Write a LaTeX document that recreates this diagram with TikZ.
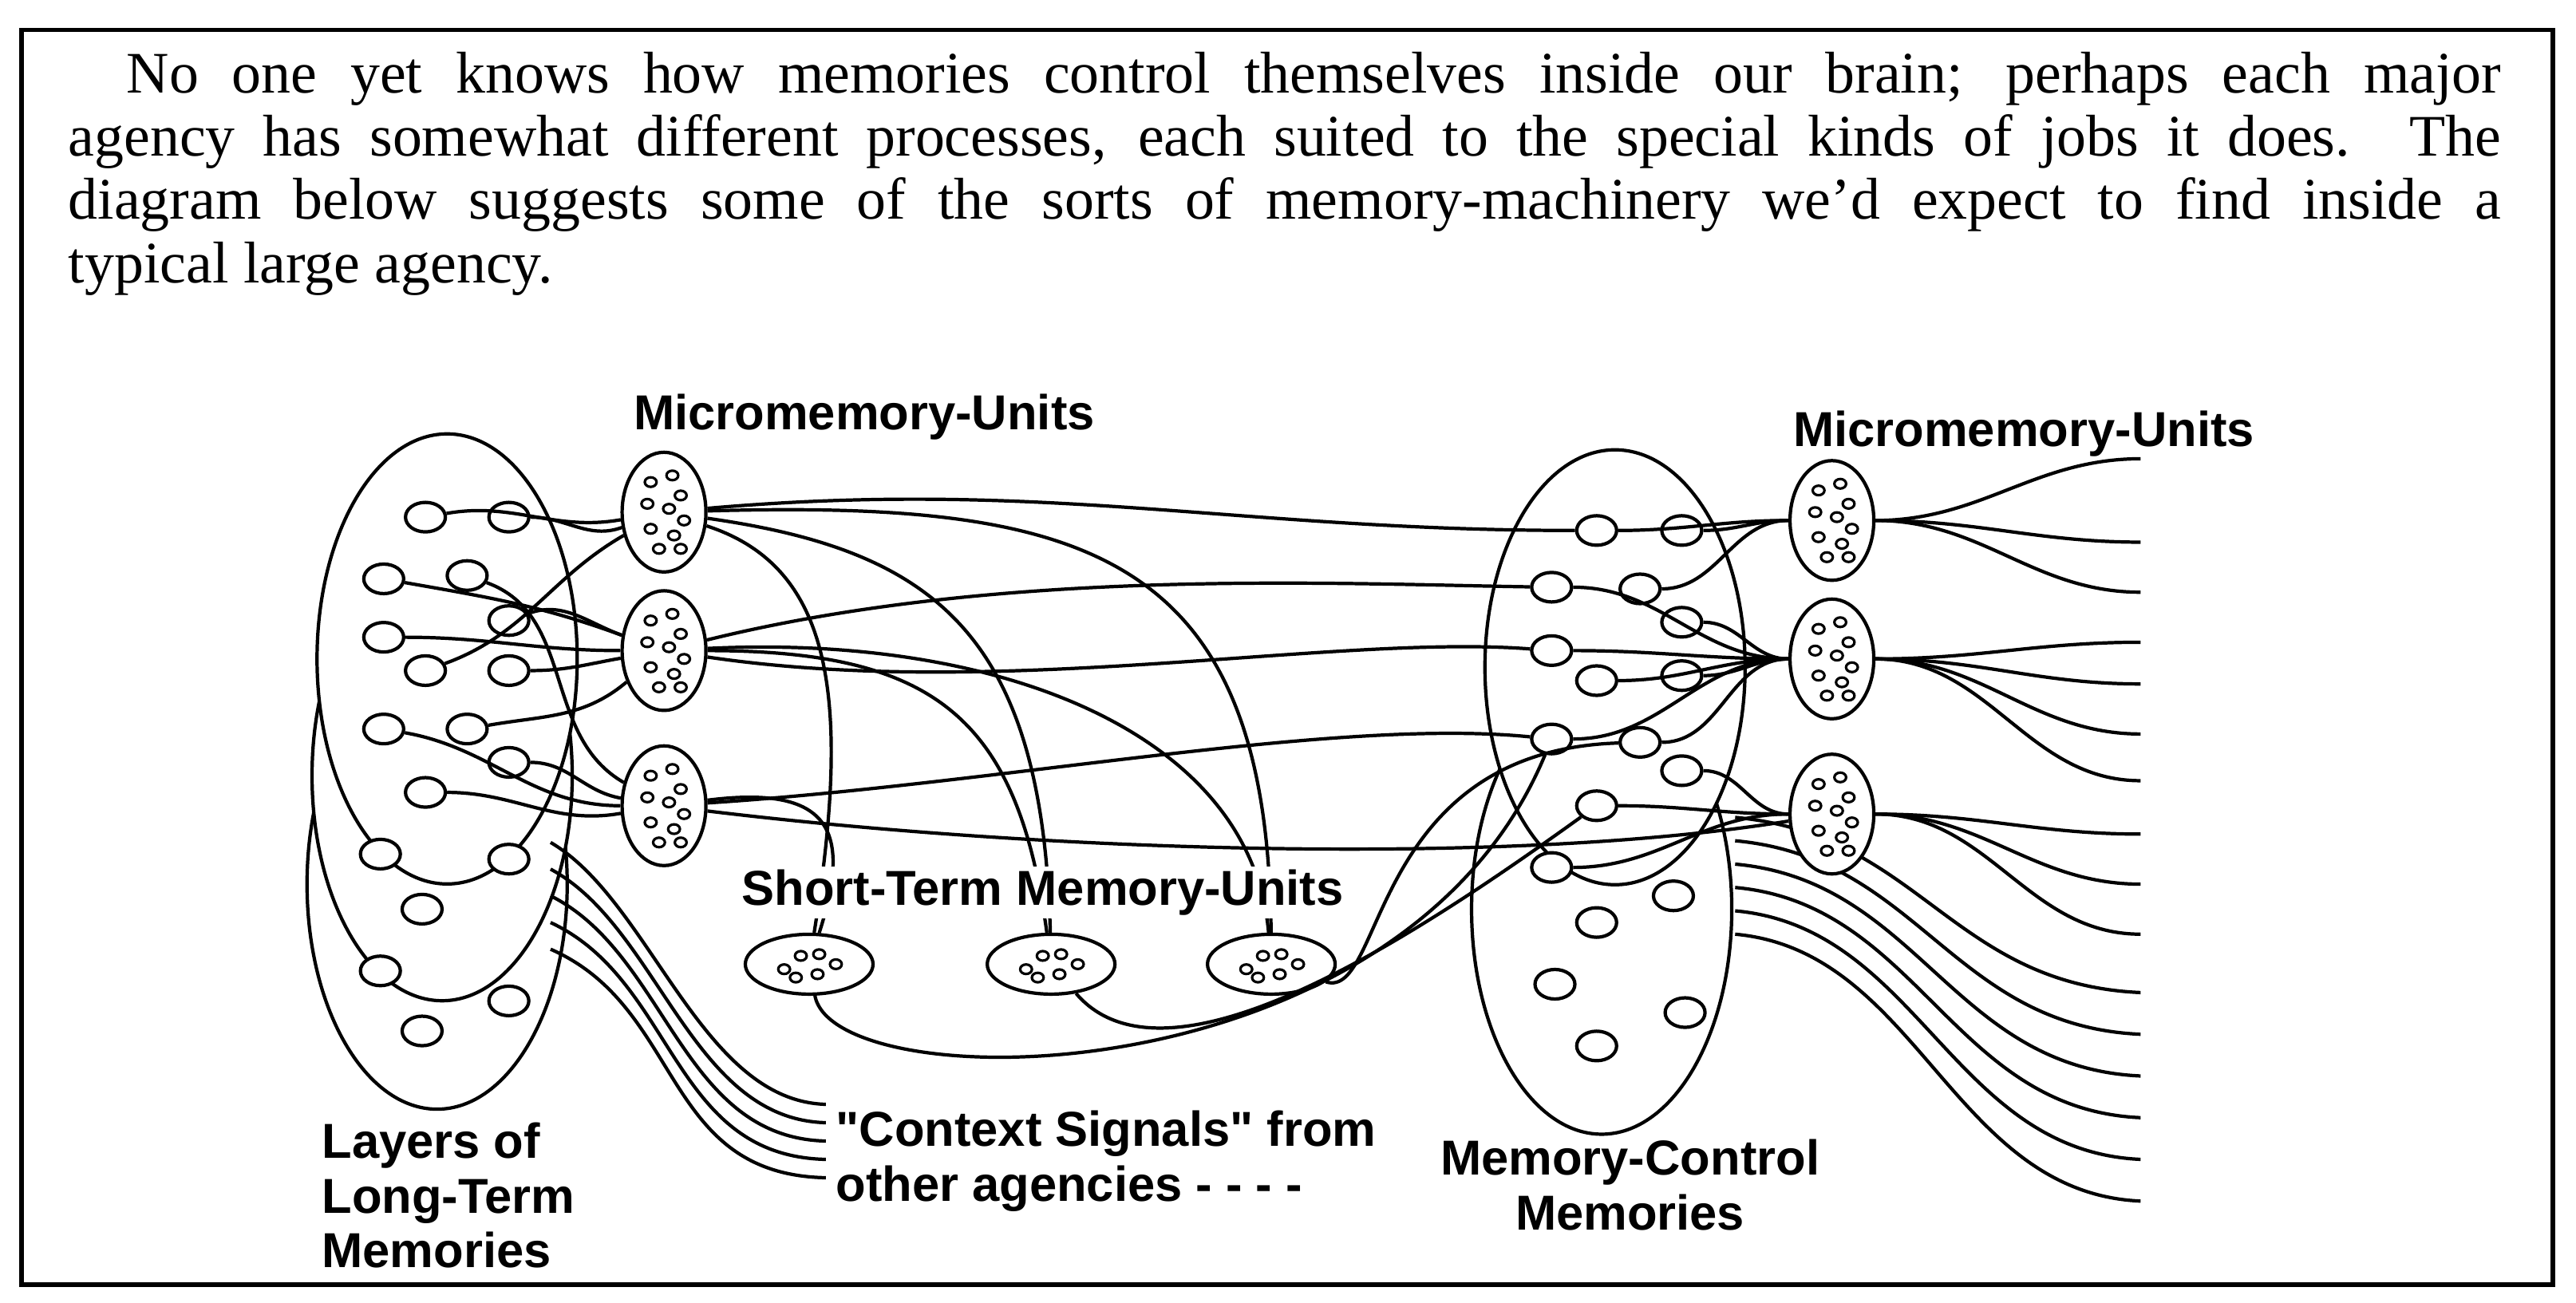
\documentclass[tikz,border=0pt]{standalone}
\usepackage{fontspec}
\setmainfont{Liberation Serif}
\newfontfamily\lab{Liberation Sans}
\usetikzlibrary{shapes.geometric,calc}
\begin{document}
\begin{tikzpicture}[x=0.020907cm,y=-0.020907cm,line width=1.2pt,
  sc/.style={ellipse,draw,inner sep=0pt,minimum width=0.5cm,minimum height=0.37cm,fill=white},
  big/.style={ellipse,draw,inner sep=0pt,minimum width=3.26cm,minimum height=5.64cm,fill=white},
  mu/.style={ellipse,draw,inner sep=0pt,minimum width=1.05cm,minimum height=1.5cm,fill=white},
  st/.style={ellipse,draw,inner sep=0pt,minimum width=1.6cm,minimum height=0.75cm,fill=white},
  lb/.style={font=\lab\bfseries\fontsize{17.5}{19.5}\selectfont,inner sep=0pt},
  dot/.style={line width=0.9pt}]
\useasboundingbox (0,0) rectangle (1544,781);
\draw[line width=1.6pt] (13,18) rectangle (1530,770);
\node[anchor=north west,text width=30.48cm,align=justify,inner sep=0pt,font=\fontsize{21}{22.6}\selectfont] (para) at (40,30)
{\hspace*{0.73cm}No one yet knows how memories control themselves inside our brain; perhaps each major\linebreak agency has somewhat different processes, each suited to the special kinds of jobs it does. The\linebreak diagram below suggests some of the sorts of memory-machinery we'd expect to find inside a\linebreak typical large agency.};
% big ellipses
\node[big] (LB3) at (262,530) {};
\node[big] (LB2) at (265,465) {};
\node[big] (RB2) at (960,545) {};
% context signal lines (behind front ellipses)
\foreach \k in {0,...,4}{
  \coordinate (C\k) at (330,{505+\k*16});
  \coordinate (D\k) at (495,{662+\k*11});
  \draw (C\k) .. controls ({390+\k*5},{540+\k*16}) and ({420-\k*6},{660+\k*11}) .. (D\k);}
\foreach \k in {0,...,5}{
  \coordinate (B\k) at (1040,{490+\k*14});
  \coordinate (F\k) at (1283,{595+\k*25});
  \draw (B\k) .. controls (1150,{500+\k*14}) and (1170,{590+\k*25}) .. (F\k);}
\node[big] (LB1) at (268,395) {};
\node[big,minimum height=5.45cm] (RB1) at (968,400) {};
% left small circles
\foreach \n/\x/\y in {1/255/310,2/305/310,3/230/347,4/280/345,5/230/382,6/305/372,7/255/402,8/305/402,9/230/437,10/280/437,11/305/457,12/255/475,13/228/512,14/305/515,15/253/545,16/228/582,17/305/600,18/253/618}
  \node[sc] (L\n) at (\x,\y) {};
\foreach \n/\x/\y in {1/957/318,2/1008/318,3/930/352,4/983/353,5/1008/373,6/930/390,7/957/408,8/1008/405,9/930/443,10/983/445,11/1008/462,12/957/483,13/930/520,14/1003/537,15/957/553,16/932/590,17/1010/607,18/957/627}
  \node[sc] (R\n) at (\x,\y) {};
% units
\foreach \n/\y in {1/307,2/390,3/483}{
  \node[mu] (LU\n) at (398,\y) {};
  \node[mu] (RU\n) at (1098,{\y+5}) {};}
\foreach \n/\x in {1/485,2/630,3/762}\node[st] (S\n) at (\x,578) {};
% connectors left circles -> left units
\draw (L1) to[out=10,in=190] (LU1);
\draw (L2) to[out=0,in=200] (LU1);
\draw (L3) to[out=-10,in=160] (LU2);
\draw (L4) to[out=-20,in=150] (LU3);
\draw (L5) to[out=0,in=180] (LU2);
\draw (L7) to[out=20,in=210] (LU1);
\draw (L8) to[out=0,in=190] (LU2);
\draw (L9) to[out=-10,in=180] (LU3);
\draw (L10) to[out=10,in=220] (LU2);
\draw (L11) to[out=0,in=170] (LU3);
\draw (L12) to[out=0,in=190] (LU3);
\draw (L6) to[out=20,in=160] (LU2);
% left units to right / short-term
\draw (LU1) to[out=5,in=180] (R1);
\draw (LU1) .. controls (650,300) and (760,330) .. (S3);
\draw (LU1) .. controls (560,330) and (625,380) .. (S2);
\draw (LU1) .. controls (500,340) and (510,420) .. (S1);
\draw (LU2) .. controls (600,340) and (800,350) .. (R3);
\draw (LU2) .. controls (600,420) and (800,380) .. (R6);
\draw (LU2) .. controls (560,390) and (610,430) .. (S2);
\draw (LU2) .. controls (600,380) and (750,440) .. (S3);
\draw (LU3) .. controls (500,470) and (510,500) .. (S1);
\draw (LU3) .. controls (600,470) and (800,430) .. (R9);
\draw (LU3) .. controls (620,510) and (900,520) .. (RU3);
% short-term to right
\draw (S1) .. controls (500,660) and (840,660) .. (R9);
\draw (S2) .. controls (700,660) and (850,560) .. (R12);
\draw (S3) .. controls (830,600) and (820,450) .. (R10);
% right circles -> right units
\foreach \a/\b in {1/RU1,2/RU1,4/RU1,3/RU2,5/RU2,6/RU2,7/RU2,8/RU2,9/RU2,10/RU2,11/RU3,12/RU3,13/RU3}
  \draw (R\a) to[out=0,in=180] (\b);
% right units -> free ends
\foreach \n/\y in {1/275,2/325,3/355}{\coordinate (E\n) at (1283,\y); \draw (RU1) to[out=0,in=180] (E\n);}
\foreach \n/\y in {4/385,5/410,6/440,7/468}{\coordinate (E\n) at (1283,\y); \draw (RU2) to[out=0,in=180] (E\n);}
\foreach \n/\y in {8/500,9/530,10/560}{\coordinate (E\n) at (1283,\y); \draw (RU3) to[out=0,in=180] (E\n);}
% dots
\foreach \u in {LU1,LU2,LU3,RU1,RU2,RU3}
  \foreach \dx/\dy in {-8/-18,5/-22,10/-10,-10/-5,3/-2,12/5,-8/10,6/14,-3/22,10/22}
    \draw[dot] ($(\u)+(\dx,\dy)$) circle[x radius=2.1pt,y radius=1.7pt];
\foreach \u in {S1,S2,S3}
  \foreach \dx/\dy in {-15/3,-5/-5,6/-6,16/0,-8/8,5/6}
    \draw[dot] ($(\u)+(\dx,\dy)$) circle[x radius=2.1pt,y radius=1.7pt];
% labels
\node[lb] (t1) at (518,250) {Micromemory-Units};
\node[lb] (t2) at (1213,260) {Micromemory-Units};
\node[lb,fill=white,inner sep=1pt] (t3) at (625,535) {Short-Term Memory-Units};
\node[lb,align=left,anchor=north west] (t4) at (192,672) {Layers of\\Long-Term\\Memories};
\node[lb,align=left,anchor=north west] (t5) at (500,665) {"Context Signals" from\\other agencies - - - -};
\node[lb,align=center,anchor=north] (t6) at (977,682) {Memory-Control\\Memories};
\end{tikzpicture}
\end{document}
